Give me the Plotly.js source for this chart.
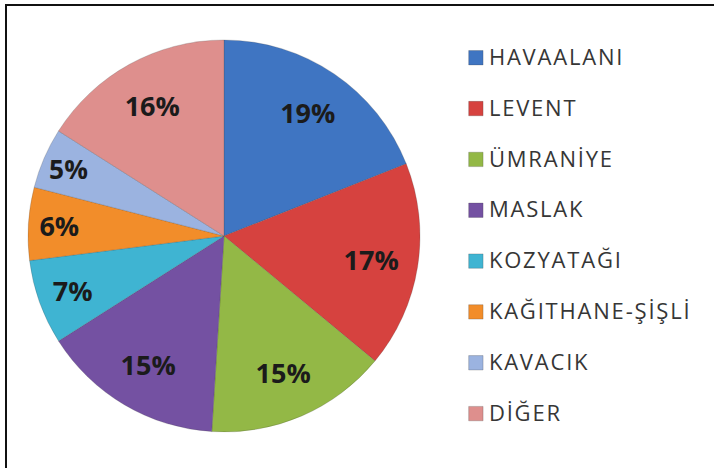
<!DOCTYPE html>
<html>
<head>
<meta charset="utf-8">
<script src="https://cdn.plot.ly/plotly-3.0.1.min.js"></script>
<style>
  html, body { margin: 0; padding: 0; background: #fff; width: 714px; height: 468px; overflow: hidden; }
  #frame { position: absolute; left: 5px; top: 4px; width: 709px; height: 464px;
           border-top: 2px solid #111; border-left: 2px solid #111; box-sizing: border-box; }
  #chart { width: 707px; height: 462px; }
  .legendtext { font-size: 22px !important; letter-spacing: 1.8px; }
  .legend .legendpoints path { transform: translate(27px, 0) scale(1.2); }
</style>
</head>
<body>
<div id="frame"><div id="chart"></div></div>
<script>
const categories = ['HAVAALANI', 'LEVENT', 'ÜMRANİYE', 'MASLAK', 'KOZYATAĞI', 'KAĞITHANE-ŞİŞLİ', 'KAVACIK', 'DİĞER'];
const values = [19, 17, 15, 15, 7, 6, 5, 16];
const colors = ['#3f75c2', '#d6423f', '#93b846', '#7451a2', '#3fb4d2', '#f28d2a', '#9bb3e0', '#de8f8d'];

// legend labels padded with a blank line so entries are spaced like the reference
const legendLabels = categories.map(c => c + "<br>&nbsp;");

const domain = { x: [0.0297, 0.5842], y: [0.0779, 0.9264] };

const pie = {
  type: 'pie',
  labels: legendLabels,
  values: values,
  sort: false,
  direction: 'clockwise',
  rotation: 0,
  marker: { colors: colors, line: { color: 'rgba(60,60,60,0.35)', width: 0.6 } },
  textinfo: 'none',
  hoverinfo: 'none',
  domain: domain
};

// transparent ring carrying the percentage labels, so they sit out toward the rim
const labelsRing = {
  type: 'pie',
  labels: legendLabels,
  values: values,
  sort: false,
  direction: 'clockwise',
  rotation: 0,
  hole: 0.52,
  showlegend: false,
  marker: { colors: values.map(() => 'rgba(0,0,0,0)'), line: { width: 0 } },
  texttemplate: '%{value}%',
  textposition: 'inside',
  insidetextorientation: 'horizontal',
  textfont: { family: 'Open Sans', size: 27, color: '#1b1b1b', weight: 'bold' },
  hoverinfo: 'none',
  domain: domain
};

const layout = {
  width: 707, height: 462,
  margin: { l: 0, r: 0, t: 0, b: 0 },
  paper_bgcolor: '#ffffff',
  showlegend: true,
  legend: {
    x: 0.625, xanchor: 'left', y: 0.928, yanchor: 'top', valign: 'top',
    font: { family: 'Open Sans', size: 18.4, color: '#363636' },
    bgcolor: 'rgba(0,0,0,0)'
  }
};

Plotly.newPlot('chart', [pie, labelsRing], layout, { displayModeBar: false, staticPlot: true });
</script>
</body>
</html>
